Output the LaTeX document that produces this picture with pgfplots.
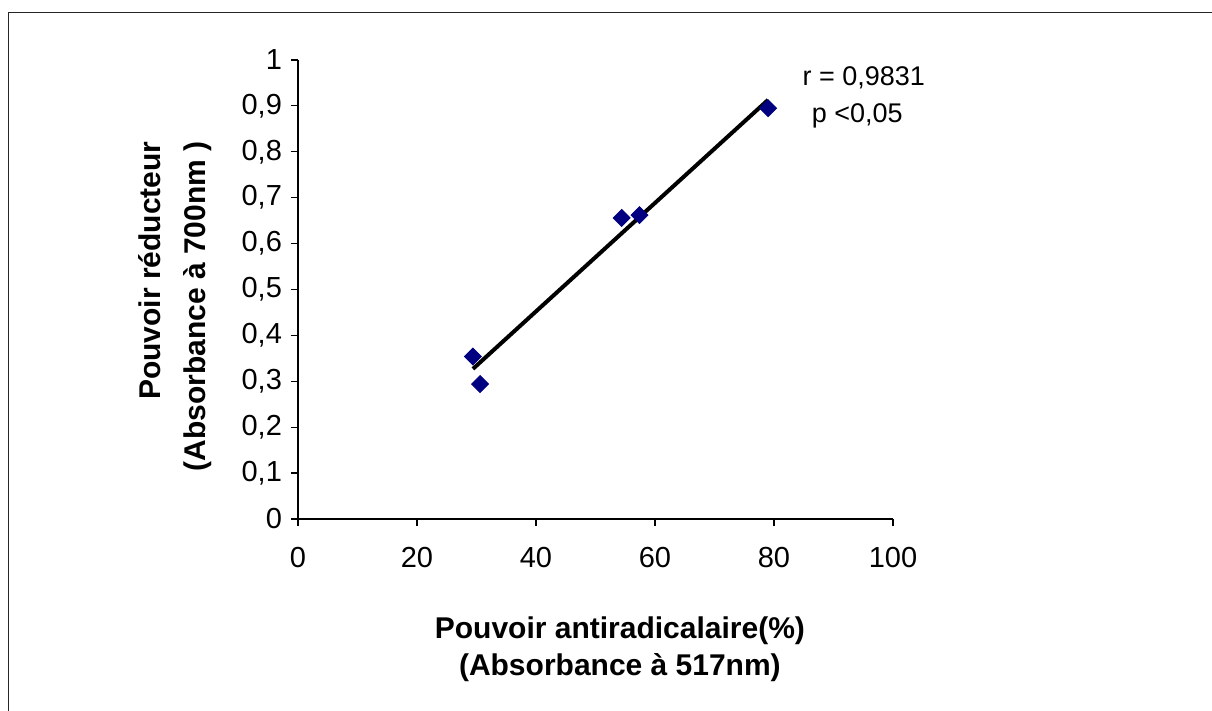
\documentclass[border=0pt]{standalone}
\usepackage{fontspec}
\setmainfont{Liberation Sans}
\usepackage{pgfplots}
\pgfplotsset{compat=1.18}
\definecolor{navymark}{HTML}{000080}

\begin{document}
\begin{tikzpicture}
% page frame (only top and left edges are visible in the reference)
\useasboundingbox (0,0) rectangle (606pt,355.5pt);
\draw[line width=0.8pt, black!85] (4.25pt,0) -- (4.25pt,349.25pt) -- (606pt,349.25pt);

\begin{axis}[
    at={(149pt,96pt)}, anchor=south west,
    scale only axis,
    width=297.5pt, height=229.5pt,
    xmin=0, xmax=100, ymin=0, ymax=1,
    xtick={0,20,...,100},
    ytick={0,0.1,...,1},
    axis lines*=left,
    axis line style={line width=0.6pt},
    tick style={line width=0.6pt, black},
    tick align=outside,
    major tick length=3.5pt,
    /pgf/number format/assume math mode=true,
    /pgf/number format/use comma,
    ticklabel style={font=\fontsize{14.5}{17}\selectfont},
    xticklabel style={yshift=-7pt},
    yticklabel style={xshift=-1pt},
    xlabel={Pouvoir antiradicalaire(\%)\\[1pt](Absorbance à 517nm)},
    xlabel style={at={(axis description cs:0.541,-0.284)}, anchor=center,
        align=center, font=\bfseries\fontsize{15}{17.5}\selectfont},
    ylabel={Pouvoir réducteur\\[5pt](Absorbance à 700nm )},
    ylabel style={at={(axis description cs:-0.207,0.463)}, anchor=center,
        align=right, font=\bfseries\fontsize{15}{17.5}\selectfont},
    clip=false,
]
% regression line
\addplot[black, line width=2pt] coordinates {
    (29.4, 0.327)
    (79.0, 0.913)
};
% measured points
\addplot[only marks, mark=square*, mark size=3pt,
    mark options={rotate=45, fill=navymark, draw=navymark}] coordinates {
    (29.4, 0.354)
    (30.6, 0.294)
    (54.4, 0.656)
    (57.4, 0.662)
    (79.0, 0.895)
};
\node[font=\fontsize{13.5}{16}\selectfont] at (axis cs:95.1,0.961) {r = 0,9831};
\node[font=\fontsize{13.5}{16}\selectfont] at (axis cs:94.0,0.878) {p <0,05};
\end{axis}
\end{tikzpicture}
\end{document}
